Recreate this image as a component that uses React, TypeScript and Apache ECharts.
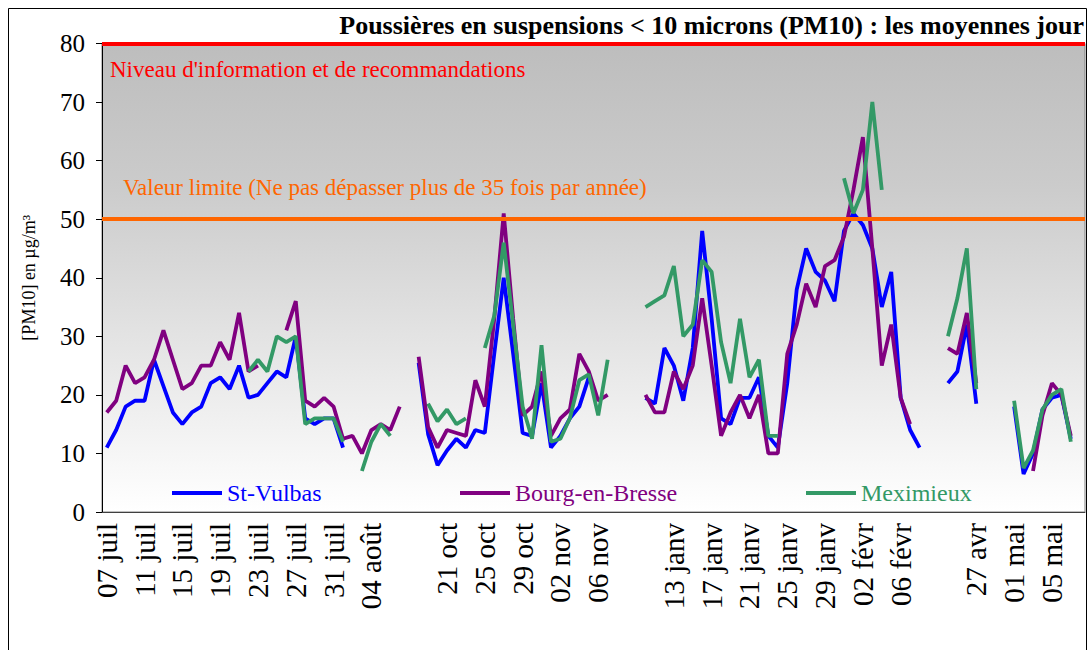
import React, { useEffect, useRef } from "react";
import * as echarts from "echarts";

const FONT = "Liberation Serif";

// Daily dates (blank entries separate the measurement campaigns)
const categories: string[] = [
  "07 juil", "08 juil", "09 juil", "10 juil", "11 juil", "12 juil", "13 juil", "14 juil",
  "15 juil", "16 juil", "17 juil", "18 juil", "19 juil", "20 juil", "21 juil", "22 juil",
  "23 juil", "24 juil", "25 juil", "26 juil", "27 juil", "28 juil", "29 juil", "30 juil",
  "31 juil", "01 août", "02 août", "03 août", "04 août", "05 août", "06 août", "07 août",
  "",
  "18 oct", "19 oct", "20 oct", "21 oct", "22 oct", "23 oct", "24 oct", "25 oct",
  "26 oct", "27 oct", "28 oct", "29 oct", "30 oct", "31 oct", "01 nov", "02 nov",
  "03 nov", "04 nov", "05 nov", "06 nov", "07 nov", "08 nov", "09 nov",
  "",
  "10 janv", "11 janv", "12 janv", "13 janv", "14 janv", "15 janv", "16 janv", "17 janv",
  "18 janv", "19 janv", "20 janv", "21 janv", "22 janv", "23 janv", "24 janv", "25 janv",
  "26 janv", "27 janv", "28 janv", "29 janv", "30 janv", "31 janv", "01 févr", "02 févr",
  "03 févr", "04 févr", "05 févr", "06 févr", "07 févr", "08 févr", "09 févr",
  "",
  "24 avr", "25 avr", "26 avr", "27 avr", "28 avr", "29 avr", "30 avr",
  "01 mai", "02 mai", "03 mai", "04 mai", "05 mai", "06 mai", "07 mai", "08 mai",
];

const N = null;

const stVulbas: (number | null)[] = [
  11, 14, 18, 19, 19, 26, 21.5, 17, 15, 17, 18, 22, 23, 21, 25, 19.5,
  20, 22, 24, 23, 30, 16, 15, 16, 16, 11, N, N, N, N, N, N,
  N,
  25.5, 13.3, 8, 10.5, 12.5, 11, 14, 13.5, 27, 40, 27, 13.5, 13, 22, 11, 13,
  16, 18, 23, N, N, N, N,
  N,
  19.5, 18.5, 28, 25, 19, 28, 48, 33, 16, 15, 19.5, 19.5, 23, 13, 11, 22,
  38, 45, 41, 39.5, 36, 48, 51, 49, 45, 35, 41, 19.5, 14, 11, N,
  N,
  22, 24, 32, 18.5, N, N, N,
  18, 6.5, 10, 17.5, 19.5, 20, 12.5, N,
];

const bourgEnBresse: (number | null)[] = [
  17, 19, 25, 22, 23, 26, 31, 26, 21, 22, 25, 25, 29, 26, 34, 24,
  25, N, N, 31, 36, 19, 18, 19.5, 18, 12.5, 13, 10, 14, 15, 14, 18,
  N,
  26.5, 14.5, 11, 14, 13.5, 13, 22.5, 18, 33, 51, 33, 16.5, 18, 24, 13, 16,
  17.5, 27, 24, 19, 20, N, N,
  N,
  20, 17, 17, 24, 21, 25, 36.5, 25, 13, 17, 20, 16, 20, 10, 10, 27,
  32, 39, 35, 42, 43, 47, 55, 64, 45, 25, 32, 19.5, 15, N, N,
  N,
  28, 27, 34, 22, N, N, N,
  N, N, 7, 16.5, 22, 20, 13, N,
];

const meximieux: (number | null)[] = [
  N, N, N, N, N, N, N, N, N, N, N, N, N, N, N, 24,
  26, 24, 30, 29, 30, 15, 16, 16, 16, 12, N, 7, 12, 15, 13, N,
  N,
  N, 18.5, 15.5, 17.5, 15, 16, N, 28, 33.5, 46, 32, 18, 12.5, 28.5, 12, 12.5,
  16, 22.5, 23.5, 16.5, 26, N, N,
  N,
  35, 36, 37, 42, 30, 32, 43, 41, 29, 22, 33, 23, 26, 13, 13, N,
  N, N, N, N, N, 57, 51, 55, 70, 55, N, N, N, N, N,
  N,
  30, 36.5, 45, 21, N, N, N,
  19, 7.5, 10.5, 17.5, 20, 21, 12, N,
];

const seriesNames = ["St-Vulbas", "Bourg-en-Bresse", "Meximieux"];
const seriesColors = ["#0000ff", "#800080", "#339966"];

const infoLevel = 80;
const limitValue = 50;
const infoLabel = "Niveau d'information et de recommandations";
const limitLabel = "Valeur limite (Ne pas dépasser plus de 35 fois par année)";
const titleText = "Poussières en suspensions < 10 microns (PM10) : les moyennes jour";

export default function App() {
  const ref = useRef<HTMLDivElement>(null);

  useEffect(() => {
    if (!ref.current) return;
    const chart = echarts.init(ref.current, null, { renderer: "svg" });
    const data = [stVulbas, bourgEnBresse, meximieux];
    const legendLefts = [172, 460, 806];

    chart.setOption({
      animation: false,
      backgroundColor: "#ffffff",
      textStyle: { fontFamily: FONT },
      title: {
        text: titleText,
        right: 5,
        top: 12,
        padding: 0,
        textStyle: { fontFamily: FONT, fontWeight: "bold", fontSize: 26, color: "#000" },
      },
      graphic: [
        {
          type: "rect",
          z: 100,
          silent: true,
          shape: { x: 8.5, y: 8.5, width: 1078, height: 700 },
          style: { fill: "none", stroke: "#000", lineWidth: 1 },
        },
      ],
      grid: {
        left: 102,
        right: 4,
        top: 43.5,
        bottom: 138,
        show: true,
        borderColor: "#808080",
        borderWidth: 1,
        backgroundColor: new echarts.graphic.LinearGradient(0, 0, 0, 1, [
          { offset: 0, color: "#bdbdbd" },
          { offset: 0.3, color: "#cbcbcb" },
          { offset: 1, color: "#ffffff" },
        ]),
      },
      legend: seriesNames.map((name, i) => ({
        data: [{ name, textStyle: { color: seriesColors[i] } }],
        left: legendLefts[i],
        top: 481,
        padding: 0,
        icon: "rect",
        itemWidth: 50,
        itemHeight: 4,
        selectedMode: false,
        textStyle: { fontFamily: FONT, fontSize: 24 },
      })),
      xAxis: {
        type: "category",
        data: categories,
        boundaryGap: true,
        axisLine: { show: true, lineStyle: { color: "#404040", width: 1 } },
        axisTick: { show: false },
        splitLine: { show: false },
        axisLabel: {
          interval: 3,
          rotate: 90,
          margin: 11,
          fontSize: 29,
          color: "#000",
          fontFamily: FONT,
        },
      },
      yAxis: {
        type: "value",
        min: 0,
        max: 80,
        interval: 10,
        name: "[PM10] en µg/m³",
        nameLocation: "middle",
        nameGap: 64,
        nameTextStyle: { fontFamily: FONT, fontSize: 18, color: "#000" },
        axisLine: { show: true, lineStyle: { color: "#000", width: 1 } },
        axisTick: { show: true, length: 6, lineStyle: { color: "#000" } },
        splitLine: { show: false },
        axisLabel: { fontSize: 25, color: "#000", margin: 17, fontFamily: FONT },
      },
      series: seriesNames.map((name, i) => ({
        name,
        type: "line",
        data: data[i],
        connectNulls: false,
        symbol: "none",
        showSymbol: false,
        lineStyle: { color: seriesColors[i], width: 3.8 },
        itemStyle: { color: seriesColors[i] },
        z: 3 + i,
        ...(i === 0
          ? {
              markLine: {
                silent: true,
                symbol: "none",
                animation: false,
                data: [
                  {
                    yAxis: infoLevel,
                    lineStyle: { color: "#ff0000", width: 4, type: "solid" },
                    label: {
                      show: true,
                      position: "insideStartBottom",
                      formatter: infoLabel,
                      color: "#ff0000",
                      fontSize: 23,
                      fontFamily: FONT,
                      distance: [8, 14],
                    },
                  },
                  {
                    yAxis: limitValue,
                    lineStyle: { color: "#ff6600", width: 4, type: "solid" },
                    label: {
                      show: true,
                      position: "insideStartTop",
                      formatter: limitLabel,
                      color: "#ff6600",
                      fontSize: 23,
                      fontFamily: FONT,
                      distance: [21, 20],
                    },
                  },
                ],
              },
            }
          : {}),
      })),
    });

    return () => chart.dispose();
  }, []);

  return (
    <div
      ref={ref}
      style={{ position: "fixed", left: 0, top: 0, width: 1089, height: 650, background: "#fff" }}
    />
  );
}
